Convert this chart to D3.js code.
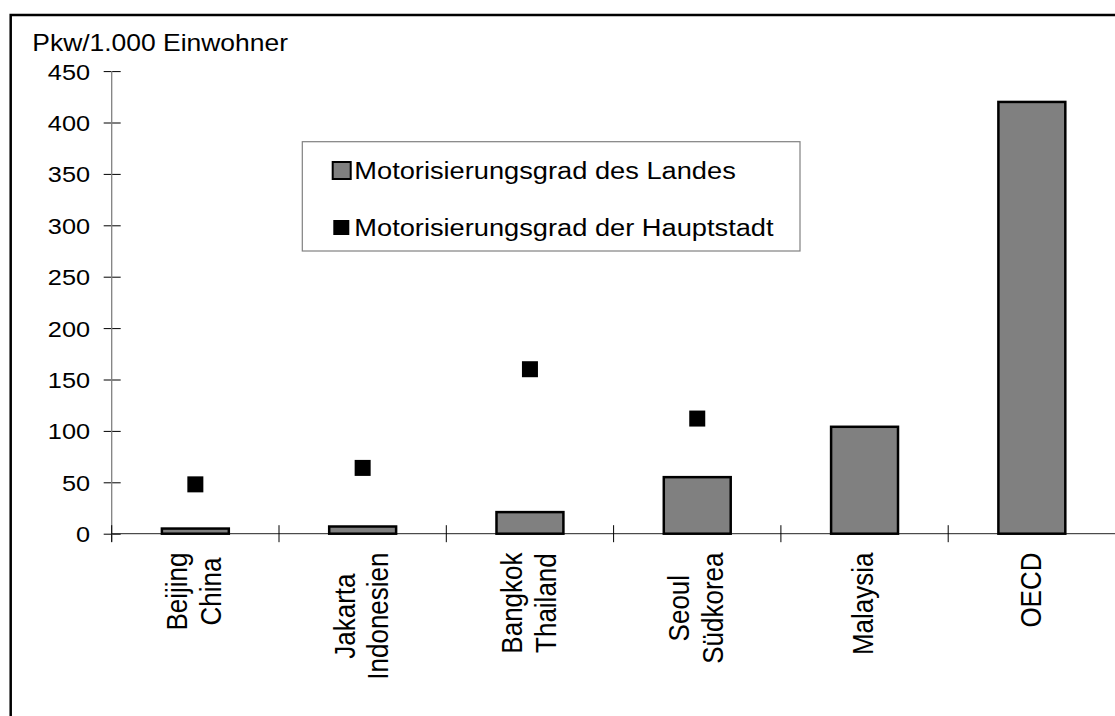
<!DOCTYPE html>
<html>
<head>
<meta charset="utf-8">
<script src="https://cdn.jsdelivr.net/npm/d3@7"></script>
<style>
  html, body { margin: 0; padding: 0; background: #fff; overflow: hidden; }
  svg { display: block; font-family: "Liberation Sans", Arial, sans-serif; }
</style>
</head>
<body>
<svg id="chart"></svg>
<script>
const width = 1115, height = 716;
const margin = { top: 71.1, left: 111.7, bottom: 533.7 };
const stretch = 1.15; // text in the reference is drawn a bit wider than tall

// Data
const categories = ["Beijing\nChina", "Jakarta\nIndonesien", "Bangkok\nThailand", "Seoul\nSüdkorea", "Malaysia", "OECD"];
const countryValues = [5, 7, 21, 55, 104, 420];     // Motorisierungsgrad des Landes
const capitalValues = [48, 64, 160, 112, null, null]; // Motorisierungsgrad der Hauptstadt
const yTicks = [0, 50, 100, 150, 200, 250, 300, 350, 400, 450];
const seriesNames = ["Motorisierungsgrad des Landes", "Motorisierungsgrad der Hauptstadt"];
const yTitle = "Pkw/1.000 Einwohner";

const svg = d3.select("#chart")
    .attr("width", width)
    .attr("height", height);

svg.append("rect")
    .attr("width", width).attr("height", height)
    .attr("fill", "#fff");

// outer frame (runs off the right and bottom edge like in the reference)
svg.append("rect")
    .attr("x", 10.7).attr("y", 15)
    .attr("width", 1300).attr("height", 900)
    .attr("fill", "none")
    .attr("stroke", "#000")
    .attr("stroke-width", 2.5);

// Scales
const x = d3.scaleBand()
    .domain(categories)
    .range([margin.left, margin.left + 6 * 167.3])
    .padding(0);
const y = d3.scaleLinear().domain([0, 450]).range([margin.bottom, margin.top]);

const barWidth = x.bandwidth() * 0.40;

// y axis title
svg.append("text")
    .attr("transform", `translate(32.3,50.7) scale(${stretch},1)`)
    .attr("font-size", 23)
    .attr("fill", "#000")
    .text(yTitle);

// y axis
const yAxis = svg.append("g")
    .attr("transform", `translate(${margin.left},0)`)
    .call(d3.axisLeft(y).tickValues(yTicks).tickSize(8).tickPadding(0));

yAxis.select(".domain").remove();
yAxis.selectAll(".tick line")
    .attr("x1", 9)
    .attr("stroke", "#000");
yAxis.selectAll(".tick text")
    .attr("x", -21.7 / stretch)
    .attr("dy", "0.36em")
    .attr("transform", `scale(${stretch},1)`)
    .attr("font-size", 22)
    .attr("font-family", "Liberation Sans, Arial, sans-serif")
    .attr("fill", "#000");

svg.append("line")
    .attr("x1", margin.left).attr("x2", margin.left)
    .attr("y1", y(450)).attr("y2", y(0) + 8)
    .attr("stroke", "#808080")
    .attr("stroke-width", 1.3);

// x axis: line plus ticks between categories
const boundaries = categories.map(c => x(c)).concat([x.range()[1]]);

svg.append("line")
    .attr("x1", margin.left).attr("x2", x.range()[1])
    .attr("y1", y(0)).attr("y2", y(0))
    .attr("stroke", "#222")
    .attr("stroke-width", 1);

svg.append("g")
    .selectAll("line")
    .data(boundaries)
    .enter()
    .append("line")
    .attr("x1", d => d).attr("x2", d => d)
    .attr("y1", y(0) - 8.5).attr("y2", y(0) + 8.5)
    .attr("stroke", "#000")
    .attr("stroke-width", 1);

// bars
svg.append("g")
    .selectAll("rect")
    .data(categories)
    .enter()
    .append("rect")
    .attr("x", d => x(d) + (x.bandwidth() - barWidth) / 2)
    .attr("y", (d, i) => y(countryValues[i]))
    .attr("width", barWidth)
    .attr("height", (d, i) => y(0) - y(countryValues[i]))
    .attr("fill", "#808080")
    .attr("stroke", "#000")
    .attr("stroke-width", 2.5);

// capital city markers
const markerSize = 16;
svg.append("g")
    .selectAll("rect")
    .data(categories.filter((d, i) => capitalValues[i] != null))
    .enter()
    .append("rect")
    .attr("x", d => x(d) + x.bandwidth() / 2 - markerSize / 2)
    .attr("y", d => y(capitalValues[categories.indexOf(d)]) - markerSize / 2)
    .attr("width", markerSize)
    .attr("height", markerSize)
    .attr("fill", "#000");

// category labels, rotated, lines centred on each other
const labelTop = 552.5, lineGap = 33.5;
categories.forEach(cat => {
    const lines = cat.split("\n");
    const cx = x(cat) + x.bandwidth() / 2;
    const texts = lines.map(line => svg.append("text")
        .attr("font-size", 26)
        .attr("text-anchor", "middle")
        .attr("fill", "#000")
        .text(line));
    const maxLen = d3.max(texts, t => t.node().getComputedTextLength());
    const yMid = labelTop + maxLen / 2;
    texts.forEach((t, i) => {
        const bx = cx + 8.8 + (i - (lines.length - 1) / 2) * lineGap;
        t.attr("transform", `translate(${bx},${yMid}) scale(${stretch},1) rotate(-90)`);
    });
});

// legend
const legend = svg.append("g");
legend.append("rect")
    .attr("x", 302.3).attr("y", 141.7)
    .attr("width", 497.7).attr("height", 109.3)
    .attr("fill", "#fff")
    .attr("stroke", "#808080")
    .attr("stroke-width", 1.2);

legend.append("rect")
    .attr("x", 332.7).attr("y", 162)
    .attr("width", 18).attr("height", 17)
    .attr("fill", "#808080")
    .attr("stroke", "#000")
    .attr("stroke-width", 2);

legend.append("rect")
    .attr("x", 341.3 - 8).attr("y", 227.5 - 7.5)
    .attr("width", 16).attr("height", 15)
    .attr("fill", "#000");

[179.3, 236].forEach((by, i) => {
    legend.append("text")
        .attr("transform", `translate(354.3,${by}) scale(${stretch},1)`)
        .attr("font-size", 23.7)
        .attr("fill", "#000")
        .text(seriesNames[i]);
});
</script>
</body>
</html>
